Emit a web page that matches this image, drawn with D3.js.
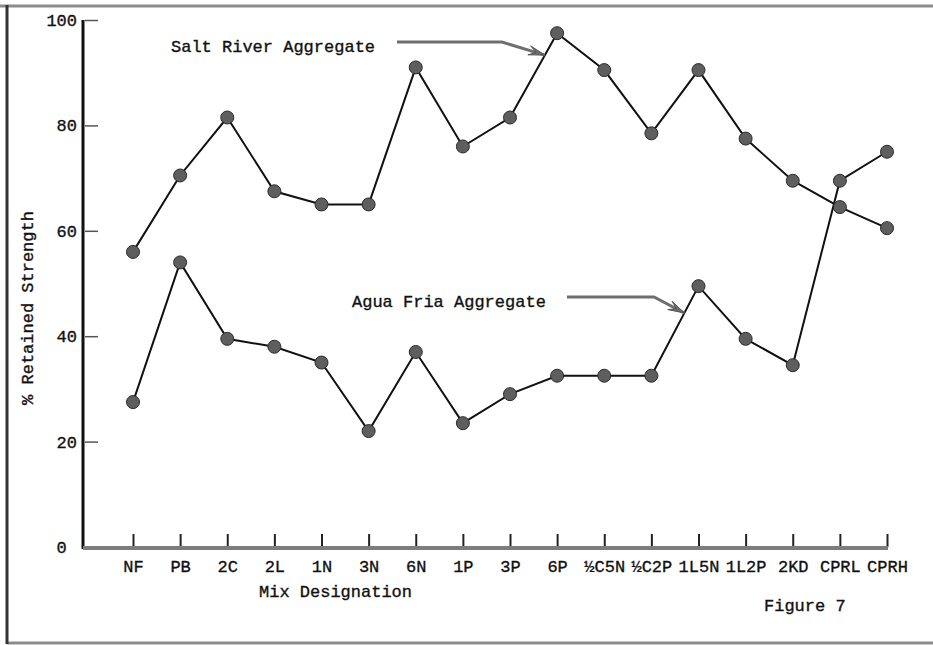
<!DOCTYPE html>
<html>
<head>
<meta charset="utf-8">
<script src="https://cdn.jsdelivr.net/npm/d3@7"></script>
<style>
  body { margin: 0; background: #fff; }
  text { font-family: "Liberation Mono", "DejaVu Sans Mono", monospace; fill: #111; stroke: #111; stroke-width: 0.35px; }
</style>
</head>
<body>
<div id="chart"></div>
<script>
// mix designations along the x axis
const categories = ['NF', 'PB', '2C', '2L', '1N', '3N', '6N', '1P', '3P', '6P',
  '½C5N', '½C2P', '1L5N', '1L2P', '2KD', 'CPRL', 'CPRH'];

// % retained strength
const saltRiver = [56, 70.5, 81.5, 67.5, 65, 65, 91, 76, 81.5, 97.5, 90.5, 78.5, 90.5, 77.5, 69.5, 64.5, 60.5];
const aguaFria = [27.5, 54, 39.5, 38, 35, 22, 37, 23.5, 29, 32.5, 32.5, 32.5, 49.5, 39.5, 34.5, 69.5, 75];

const yTicks = [0, 20, 40, 60, 80, 100];

const svgWidth = 933;
const svgHeight = 645;

const svg = d3.select('#chart').append('svg')
  .attr('width', svgWidth)
  .attr('height', svgHeight);

// frame of the scanned page
svg.append('line')
  .attr('x1', 0).attr('x2', svgWidth).attr('y1', 6).attr('y2', 6)
  .attr('stroke', '#8c8c8c').attr('stroke-width', 3);
svg.append('line')
  .attr('x1', 7).attr('x2', svgWidth).attr('y1', 643).attr('y2', 643)
  .attr('stroke', '#8c8c8c').attr('stroke-width', 3);
svg.append('line')
  .attr('x1', 7).attr('x2', 7).attr('y1', 5).attr('y2', 644)
  .attr('stroke', '#333').attr('stroke-width', 3);

// scales
const xScale = d3.scalePoint().domain(categories).range([133, 887]);
const yScale = d3.scaleLinear().domain([0, 100]).range([547, 20]);

// y axis
const yAxis = d3.axisLeft(yScale)
  .tickValues(yTicks)
  .tickSize(-15)
  .tickPadding(6)
  .tickFormat(d => d === 0 ? '0\u00a0' : String(d));

const yG = svg.append('g')
  .attr('transform', 'translate(83,0)')
  .call(yAxis);
yG.select('.domain').remove();
yG.selectAll('.tick line')
  .attr('stroke', '#555')
  .attr('stroke-width', 1.5)
  .attr('x1', 2)
  .filter(d => d === 0).remove();
yG.selectAll('.tick text')
  .attr('font-size', '17px')
  .attr('font-family', '"Liberation Mono", monospace')
  .attr('fill', '#111');

svg.append('line')
  .attr('x1', 83).attr('x2', 83)
  .attr('y1', yScale(100)).attr('y2', yScale(0) + 2)
  .attr('stroke', '#111').attr('stroke-width', 3);

// x axis: ticks point up from a heavy grey baseline
const xAxis = d3.axisBottom(xScale)
  .tickSizeInner(-13)
  .tickSizeOuter(0)
  .tickPadding(13);

const xG = svg.append('g')
  .attr('transform', `translate(0,${yScale(0)})`)
  .call(xAxis);
xG.select('.domain').remove();
xG.selectAll('.tick line')
  .attr('stroke', '#222')
  .attr('stroke-width', 2);
xG.selectAll('.tick text')
  .attr('font-size', '17px')
  .attr('font-family', '"Liberation Mono", monospace')
  .attr('fill', '#111');

svg.append('line')
  .attr('x1', 83).attr('x2', xScale('CPRH') + 1)
  .attr('y1', yScale(0) + 1).attr('y2', yScale(0) + 1)
  .attr('stroke', '#7d7d7d').attr('stroke-width', 4);

// axis titles
svg.append('text')
  .attr('x', 259).attr('y', 597)
  .attr('font-size', '17px')
  .text('Mix Designation');

svg.append('text')
  .attr('transform', 'translate(33,308) rotate(-90)')
  .attr('text-anchor', 'middle')
  .attr('font-size', '17px')
  .text('% Retained Strength');

svg.append('text')
  .attr('x', 764).attr('y', 611)
  .attr('font-size', '17px')
  .text('Figure 7');

// series
const line = d3.line()
  .x((d, i) => xScale(categories[i]))
  .y(d => yScale(d));

[saltRiver, aguaFria].forEach(series => {
  svg.append('path')
    .attr('d', line(series))
    .attr('fill', 'none')
    .attr('stroke', '#111')
    .attr('stroke-width', 2);
});

[saltRiver, aguaFria].forEach(series => {
  svg.selectAll(null)
    .data(series)
    .enter()
    .append('circle')
    .attr('cx', (d, i) => xScale(categories[i]))
    .attr('cy', d => yScale(d))
    .attr('r', 6.5)
    .attr('fill', '#5e5e5e')
    .attr('stroke', '#2b2b2b')
    .attr('stroke-width', 1);
});

// labels with bent arrows pointing at a segment of each line
function pointOnSegment(series, i, t) {
  const x0 = xScale(categories[i]), x1 = xScale(categories[i + 1]);
  const y0 = yScale(series[i]), y1 = yScale(series[i + 1]);
  return [x0 + (x1 - x0) * t, y0 + (y1 - y0) * t];
}

function drawCallout(label, textX, textY, shaftStart, shaftEnd, tip) {
  svg.append('text')
    .attr('x', textX).attr('y', textY)
    .attr('font-size', '17px')
    .text(label);

  svg.append('path')
    .attr('d', d3.line()([[shaftStart, textY - 10], [shaftEnd, textY - 10], tip]))
    .attr('fill', 'none')
    .attr('stroke', '#6e6e6e')
    .attr('stroke-width', 3);

  // narrow arrow head
  const ang = Math.atan2(tip[1] - (textY - 10), tip[0] - shaftEnd);
  const len = 17, spread = 0.28;
  const p1 = [tip[0] - len * Math.cos(ang - spread), tip[1] - len * Math.sin(ang - spread)];
  const p2 = [tip[0] - len * Math.cos(ang + spread), tip[1] - len * Math.sin(ang + spread)];
  svg.append('path')
    .attr('d', d3.line()([p1, tip, p2, [tip[0] - 9 * Math.cos(ang), tip[1] - 9 * Math.sin(ang)], p1]))
    .attr('fill', '#6e6e6e')
    .attr('stroke', '#555')
    .attr('stroke-width', 1);
}

drawCallout('Salt River Aggregate', 171, 52, 397, 502,
  pointOnSegment(saltRiver, 8, 0.74));
drawCallout('Agua Fria Aggregate', 352, 307, 567, 654,
  pointOnSegment(aguaFria, 11, 0.7));
</script>
</body>
</html>
